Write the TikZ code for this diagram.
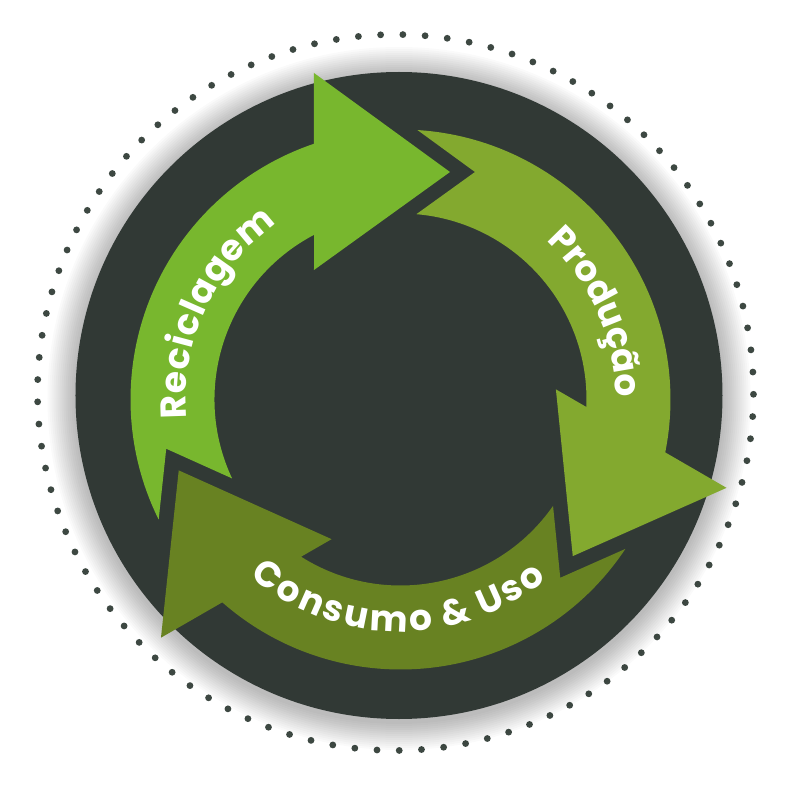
\documentclass[tikz,border=0pt]{standalone}
\usepackage{fontspec}
\usetikzlibrary{decorations.text}
\newfontfamily\rotulofont{Poppins}
\newcommand{\rotulo}{\rotulofont\bfseries\fontsize{36}{36}\selectfont}
\definecolor{escuro}{RGB}{49,57,53}
\definecolor{ponto}{RGB}{61,72,66}
\definecolor{verdeRec}{RGB}{120,183,46}
\definecolor{verdeProd}{RGB}{131,169,47}
\definecolor{verdeCons}{RGB}{104,130,34}
\tikzset{
  rotulo/.style={decorate, decoration={text effects along path, text={#1},
      text effects/.cd, text along path, fit text to path,
      characters={text=white, font=\rotulo, inner sep=0pt, anchor=base}}}
}

\begin{document}
\begin{tikzpicture}[x=1pt, y=1pt]
    \fill[white] (-400.5,-393.5) rectangle (392.5,399.5);
    \useasboundingbox (-400.5,-393.5) rectangle (392.5,399.5);
    \coordinate (centro) at (0,0);
    \coordinate (fundo) at (-1.5,4);
    \coordinate (sombra) at (-1.5,1);
    \coordinate (aro) at (-5,7);

    % Pontos
    \begin{scope}[shift={(aro)}]
        \foreach \k in {0,...,100}
            \fill[ponto] (270.6+3.5644*\k:358) circle (3.4);
    \end{scope}

    % Sombra
    \foreach \i in {1,...,14}
        \fill[black, opacity=0.018] (sombra) circle (323.5+2*\i);

    % Disco
    \fill[escuro] (fundo) circle (323.5);

    % Setas (Reciclagem, Producao, Consumo)
    \foreach \ang/\cor in {0/verdeRec, -120/verdeProd, 120/verdeCons}
        \fill[\cor, rotate=\ang] (206.4:270) arc[start angle=206.4, end angle=108.7, radius=270]
            -- (-86.5,326.5) -- (49.5,227.5) -- (-86.5,129.5)
            -- (117.7:186) arc[start angle=117.7, end angle=205.1, radius=186]
            -- (191.87:239.4) -- cycle;

    % Textos
    \path[rotulo=Reciclagem] (185:214.5) arc[start angle=185, end angle=125, radius=214.5];
    \path[rotulo=Produção] (47.5:215.5) arc[start angle=47.5, end angle=0.5, radius=215.5];
    \path[rotulo={Consumo {\&} Uso}] (229.5:232) arc[start angle=229.5, end angle=309, radius=232];

\end{tikzpicture}
\end{document}
